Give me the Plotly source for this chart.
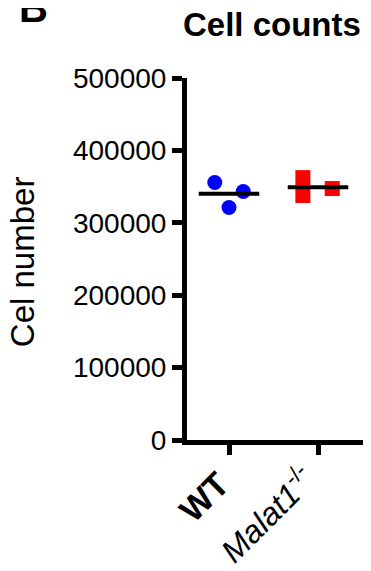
import plotly.graph_objects as go

categories = ["WT", "Malat1-/-"]
tick_labels = ["<b>WT</b>", "<i>Malat1</i><sup>-/-</sup>"]
wt_values = [355600, 343200, 321200]
malat_values = [362400, 337700, 347300]
wt_jitter = [-0.16, 0.16, 0.0]
malat_jitter = [-0.17, -0.17, 0.16]
y_ticks = [0, 100000, 200000, 300000, 400000, 500000]

FONT = "Liberation Sans, Arial, sans-serif"

fig = go.Figure()

groups = [
    (0, wt_values, wt_jitter, "circle", "#0000FF"),
    (1, malat_values, malat_jitter, "square", "#FF0000"),
]
for pos, vals, jit, sym, col in groups:
    fig.add_trace(go.Scatter(
        x=[pos + j for j in jit], y=vals, mode="markers",
        marker=dict(symbol=sym, size=15, color=col, line=dict(width=0)),
        showlegend=False, hoverinfo="skip"))
    m = sum(vals) / len(vals)
    fig.add_trace(go.Scatter(
        x=[pos - 0.34, pos + 0.34], y=[m, m], mode="lines",
        line=dict(color="black", width=4), showlegend=False, hoverinfo="skip"))

# rotated category labels (placed as annotations under each tick)
label_layout = [
    dict(size=34, xshift=-25, y=-0.1588),
    dict(size=32, xshift=-52, y=-0.2044),
]
annotations = []
for i, (txt, lay) in enumerate(zip(tick_labels, label_layout)):
    annotations.append(dict(
        text=txt, xref="x", yref="paper", x=i, y=lay["y"], xshift=lay["xshift"],
        xanchor="center", yanchor="middle", textangle=-45, showarrow=False,
        font=dict(size=lay["size"], family=FONT, color="black")))

annotations += [
    dict(text="<b>Cell counts</b>", xref="paper", yref="paper",
         x=0.4775, y=1.148, xanchor="center", yanchor="middle",
         showarrow=False, font=dict(size=33, family=FONT, color="black")),
    dict(text="<b>B</b>", xref="paper", yref="paper",
         x=-0.865, y=1.194, xanchor="center", yanchor="middle",
         showarrow=False, font=dict(size=40, family=FONT, color="black")),
    dict(text="Cel number", xref="paper", yref="paper",
         x=-0.927, y=0.494, xanchor="center", yanchor="middle", textangle=-90,
         showarrow=False, font=dict(size=33, family=FONT, color="black")),
]

fig.update_layout(
    width=363, height=563,
    margin=dict(l=179, r=6, t=70, b=131, autoexpand=False),
    paper_bgcolor="white", plot_bgcolor="white",
    font=dict(family=FONT, color="black", size=26),
    xaxis=dict(
        range=[-0.472, 1.528], tickmode="array", tickvals=[0, 1], ticktext=["", ""],
        showgrid=False, zeroline=False, showline=True, automargin=False,
        linecolor="black", linewidth=5, ticks="outside", ticklen=10, tickwidth=5,
        tickcolor="black"),
    yaxis=dict(
        range=[0, 500000], tickmode="array", tickvals=y_ticks,
        ticktext=[str(v) for v in y_ticks], automargin=False,
        showgrid=False, zeroline=False, showline=True,
        linecolor="black", linewidth=5, ticks="outside", ticklen=10, tickwidth=5,
        tickcolor="black", tickfont=dict(size=28, family=FONT, color="black")),
    annotations=annotations,
)

fig.write_html("out.html")
